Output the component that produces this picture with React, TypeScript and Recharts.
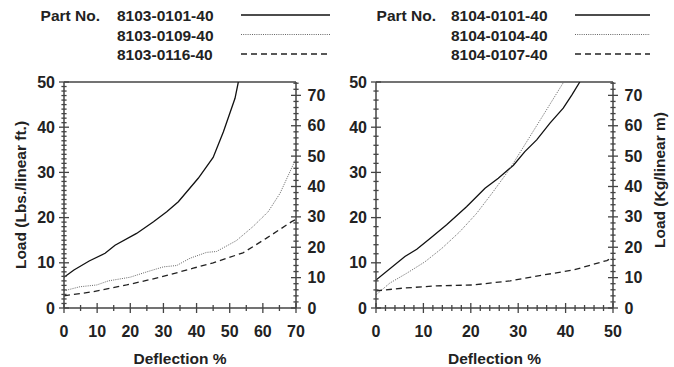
import React from 'react';
import { LineChart, Line, XAxis, YAxis, ReferenceLine } from 'recharts';

const FONT = "'Liberation Sans', Arial, Helvetica, sans-serif";
const INK = '#222';
const AXIS = '#444';

// Part numbers
const partsLeft = ['8103-0101-40', '8103-0109-40', '8103-0116-40'];
const partsRight = ['8104-0101-40', '8104-0104-40', '8104-0107-40'];

// [deflection %, load (lbs / linear ft)]
const p8103_0101 = [[0, 6.8], [3, 8.4], [7.6, 10.4], [12.4, 12.1], [15.4, 13.9], [21.9, 16.5], [27, 19.1], [31, 21.3], [34.5, 23.5], [40.5, 28.7], [45, 33.3], [48.1, 39], [51.6, 46.4], [52.6, 50]];
const p8103_0109 = [[0, 3.8], [4.8, 4.7], [9.9, 5.1], [13.4, 6.0], [19.9, 6.8], [25, 8.0], [30, 9.1], [34, 9.4], [38, 11], [43, 12.3], [46, 12.5], [52, 14.9], [57, 18], [61.6, 21.3], [65.2, 25.4], [68.7, 31], [70, 33]];
const p8103_0116 = [[0, 2.7], [8.8, 3.6], [18.9, 5.1], [29, 6.8], [39, 8.8], [45, 10], [54, 12.2], [61, 15.4], [68.7, 19.1], [70, 19.6]];

const p8104_0101 = [[0, 6.2], [6.1, 11.4], [8.6, 13], [11.4, 15.4], [14.9, 18.4], [19.1, 22.4], [23, 26.5], [25.8, 28.7], [29, 31.6], [31.4, 34.6], [33.9, 37.2], [36.7, 40.9], [39.5, 44.2], [41.3, 47.1], [43, 50]];
const p8104_0104 = [[0, 2.9], [2.9, 5.5], [6.5, 7.7], [10.3, 10.2], [13.9, 13.2], [17.7, 16.9], [21.2, 20.9], [24.7, 25.7], [28.3, 30.9], [31.8, 36.8], [35.3, 42.7], [39.6, 50]];
const p8104_0107 = [[0, 3.8], [5.8, 4.4], [12.8, 4.9], [20.5, 5.1], [28.3, 6.0], [35.3, 7.3], [41.6, 8.4], [48.7, 10.5], [50, 11.2]];

// Axis ranges / tick steps
const lbsMax = 50;
const kgMax = 74.4; // 50 lbs/ft in kg/m
const kgMajor = [0, 10, 20, 30, 40, 50, 60, 70];
const lbsMajor = [0, 10, 20, 30, 40, 50];
const deflMajorLeft = [0, 10, 20, 30, 40, 50, 60, 70];
const deflMajorRight = [0, 10, 20, 30, 40, 50];

const steps = (max: number, step: number) => {
  const out: number[] = [];
  for (let v = 0; v <= max + 1e-9; v += step) out.push(Math.round(v * 1000) / 1000);
  return out;
};

const toXY = (pts: number[][]) => pts.map(([x, y]) => ({ x, y }));

const lineStyles = [
  { stroke: '#111', strokeWidth: 1.3, strokeDasharray: undefined as string | undefined },
  { stroke: '#666', strokeWidth: 1, strokeDasharray: '1 1.2' },
  { stroke: '#222', strokeWidth: 1.3, strokeDasharray: '6 4' },
];

const TICK_FS = 16;

const makeTick = (side: 'left' | 'right' | 'bottom', majors: number[]) => (p: any) => {
  const { x, y, payload } = p;
  const v = payload.value;
  const isMajor = majors.includes(v);
  const txt = { fontFamily: FONT, fontWeight: 700, fontSize: TICK_FS, fill: INK };
  if (side === 'bottom') {
    const l = isMajor ? 5 : 3;
    return (
      <g>
        <line x1={x} x2={x} y1={y - l} y2={y + l} stroke={AXIS} strokeWidth={1.3} />
        {isMajor && (
          <text x={x} y={y + 23} dy="0.35em" textAnchor="middle" {...txt}>{v}</text>
        )}
      </g>
    );
  }
  const l = isMajor ? 5 : 2.6;
  const tx = side === 'left' ? x - 9 : x + 11.5;
  return (
    <g>
      <line x1={x - l} x2={x + l} y1={y} y2={y} stroke={AXIS} strokeWidth={1.3} />
      {isMajor && (
        <text x={tx} y={y} dy="0.35em" textAnchor={side === 'left' ? 'end' : 'start'} {...txt}>{v}</text>
      )}
    </g>
  );
};

const vLabel = (text: string, dxFromAxisBoxLeft: number, dyFromCenter: number) => (p: any) => {
  const vb = p.viewBox || { x: 0, y: 0, width: 0, height: 0 };
  const cx = vb.x + dxFromAxisBoxLeft;
  const cy = vb.y + vb.height / 2 + dyFromCenter;
  return (
    <text
      x={cx}
      y={cy}
      transform={`rotate(-90, ${cx}, ${cy})`}
      textAnchor="middle"
      dy="0.35em"
      fontFamily={FONT}
      fontWeight={700}
      fontSize={15.5}
      fill={INK}
    >
      {text}
    </text>
  );
};

type PanelProps = {
  series: number[][][];
  names: string[];
  deflMax: number;
  deflMajor: number[];
  deflStep: number;
  lbsStep: number;
  leftW: number;
  rightW: number;
  leftLabel?: string;
  rightLabel?: string;
};

function Panel(props: PanelProps) {
  const { series, names, deflMax, deflMajor, deflStep, lbsStep, leftW, rightW, leftLabel, rightLabel } = props;
  return (
    <LineChart width={337} height={367} margin={{ top: 82, right: 0, bottom: 0, left: 0 }}>
      <XAxis
        dataKey="x"
        type="number"
        domain={[0, deflMax]}
        ticks={steps(deflMax, deflStep)}
        interval={0}
        allowDataOverflow
        height={59}
        tickSize={0}
        tickMargin={0}
        tickLine={false}
        axisLine={{ stroke: AXIS, strokeWidth: 1.5 }}
        tick={makeTick('bottom', deflMajor)}
        label={{
          value: 'Deflection %',
          position: 'insideBottom',
          offset: 3,
          fontFamily: FONT,
          fontWeight: 700,
          fontSize: 15.5,
          fill: INK,
        }}
      />
      <YAxis
        yAxisId="l"
        type="number"
        domain={[0, lbsMax]}
        ticks={steps(lbsMax, lbsStep)}
        interval={0}
        allowDataOverflow
        width={leftW}
        tickSize={0}
        tickMargin={0}
        tickLine={false}
        axisLine={{ stroke: AXIS, strokeWidth: 1.5 }}
        tick={makeTick('left', lbsMajor)}
        label={leftLabel ? { content: vLabel(leftLabel, 21, 0) } : undefined}
      />
      <YAxis
        yAxisId="r"
        orientation="right"
        type="number"
        domain={[0, kgMax]}
        ticks={steps(74, 2)}
        interval={0}
        allowDataOverflow
        width={rightW}
        tickSize={0}
        tickMargin={0}
        tickLine={false}
        axisLine={{ stroke: AXIS, strokeWidth: 1.5 }}
        tick={makeTick('right', kgMajor)}
        label={rightLabel ? { content: vLabel(rightLabel, 47, -15) } : undefined}
      />
      <ReferenceLine yAxisId="l" y={lbsMax} stroke={AXIS} strokeWidth={1.5} />
      {series.map((s, i) => (
        <Line
          key={names[i]}
          yAxisId="l"
          data={toXY(s)}
          dataKey="y"
          name={names[i]}
          type="linear"
          dot={false}
          activeDot={false}
          isAnimationActive={false}
          stroke={lineStyles[i].stroke}
          strokeWidth={lineStyles[i].strokeWidth}
          strokeDasharray={lineStyles[i].strokeDasharray}
        />
      ))}
    </LineChart>
  );
}

function PartLegend({ names, labelEnd, nameStart, lineX1, lineX2 }: { names: string[]; labelEnd: number; nameStart: number; lineX1: number; lineX2: number }) {
  const rows = [16, 35.5, 55];
  const txt = { fontFamily: FONT, fontWeight: 700, fontSize: 15.5, fill: INK };
  return (
    <g>
      <text x={labelEnd} y={rows[0]} dy="0.35em" textAnchor="end" {...txt}>Part No.</text>
      {names.map((n, i) => (
        <g key={n}>
          <text x={nameStart} y={rows[i]} dy="0.35em" {...txt}>{n}</text>
          <line
            x1={lineX1}
            x2={lineX2}
            y1={rows[i] - 1}
            y2={rows[i] - 1}
            stroke={lineStyles[i].stroke}
            strokeWidth={lineStyles[i].strokeWidth}
            strokeDasharray={lineStyles[i].strokeDasharray}
          />
        </g>
      ))}
    </g>
  );
}

export default function App() {
  return (
    <div style={{ position: 'absolute', left: 0, top: 0, width: 674, height: 367, background: '#fff', overflow: 'hidden' }}>
      <div style={{ position: 'absolute', left: 0, top: 0 }}>
        <Panel
          series={[p8103_0101, p8103_0109, p8103_0116]}
          names={partsLeft}
          deflMax={70}
          deflMajor={deflMajorLeft}
          deflStep={5}
          lbsStep={1}
          leftW={64}
          rightW={41}
          leftLabel="Load (Lbs./linear ft.)"
        />
      </div>
      <div style={{ position: 'absolute', left: 337, top: 0 }}>
        <Panel
          series={[p8104_0101, p8104_0104, p8104_0107]}
          names={partsRight}
          deflMax={50}
          deflMajor={deflMajorRight}
          deflStep={2}
          lbsStep={2}
          leftW={39}
          rightW={61}
          rightLabel="Load (Kg/linear m)"
        />
      </div>
      <svg width={674} height={72} style={{ position: 'absolute', left: 0, top: 0 }}>
        <PartLegend names={partsLeft} labelEnd={100} nameStart={117} lineX1={241} lineX2={330} />
        <PartLegend names={partsRight} labelEnd={436} nameStart={451} lineX1={575} lineX2={650} />
      </svg>
    </div>
  );
}
